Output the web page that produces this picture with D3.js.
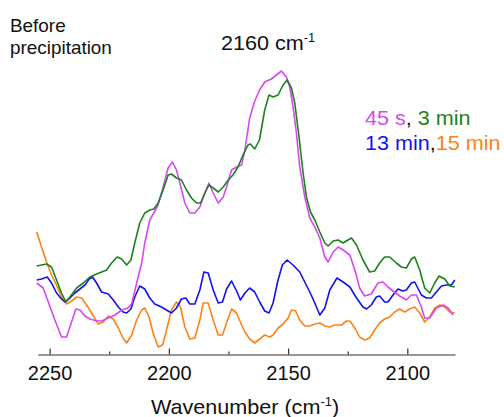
<!DOCTYPE html>
<html>
<head>
<meta charset="utf-8">
<script src="https://cdn.jsdelivr.net/npm/d3@7"></script>
<style>
  html, body { margin: 0; padding: 0; background: #fff; }
  svg { display: block; font-family: "Liberation Sans", Arial, Helvetica, sans-serif; }
</style>
</head>
<body>
<svg id="chart" width="504" height="417"></svg>
<script>
// ---- Data (wavenumber in cm-1, absorbance in arbitrary offset units) ----
const magentaWn = [2255.4,2252.7,2247.8,2245.0,2242.9,2240.8,2239.0,2237.3,2235.2,2233.1,2230.3,2228.2,2225.4,2222.6,2219.8,2217.1,2215.6,2213.5,2211.4,2210.1,2208.0,2206.3,2204.5,2202.4,2200.3,2198.5,2196.8,2195.4,2193.3,2191.2,2189.1,2187.0,2184.9,2183.2,2181.4,2179.3,2177.2,2175.8,2173.7,2171.6,2169.5,2168.1,2166.1,2164.0,2161.9,2159.8,2157.0,2154.9,2152.8,2150.7,2149.3,2147.9,2146.5,2145.1,2143.0,2140.9,2138.8,2136.7,2134.6,2133.2,2131.1,2129.0,2126.9,2124.1,2122.0,2120.0,2117.9,2115.1,2112.3,2110.2,2108.1,2106.0,2103.2,2100.4,2098.3,2096.2,2094.1,2092.7,2090.6,2087.8,2085.0,2082.9,2080.8];
const magentaVal = [0.71,0.66,0.34,0.17,0.17,0.32,0.45,0.44,0.38,0.35,0.33,0.33,0.36,0.39,0.44,0.46,0.50,0.71,0.91,1.11,1.34,1.41,1.49,1.67,1.86,1.92,1.84,1.71,1.51,1.41,1.41,1.47,1.61,1.71,1.61,1.51,1.57,1.67,1.84,1.87,1.89,2.04,2.36,2.53,2.64,2.72,2.75,2.79,2.83,2.77,2.67,2.47,2.21,1.87,1.57,1.36,1.27,1.16,0.97,0.92,1.02,1.07,1.04,0.99,0.84,0.66,0.58,0.60,0.71,0.72,0.67,0.63,0.58,0.54,0.59,0.59,0.47,0.36,0.36,0.46,0.49,0.46,0.39];

const greenWn = [2255.4,2251.3,2249.2,2247.1,2245.0,2243.2,2241.5,2238.7,2235.9,2233.1,2230.3,2226.1,2224.0,2221.7,2219.8,2217.7,2215.9,2214.3,2212.2,2210.1,2208.0,2206.3,2204.5,2202.4,2200.3,2198.9,2196.8,2194.7,2192.6,2190.5,2188.4,2186.7,2184.9,2183.2,2181.4,2179.3,2177.2,2175.1,2173.1,2171.0,2168.9,2166.8,2165.8,2164.0,2162.0,2159.8,2158.0,2156.3,2154.2,2152.1,2150.4,2148.6,2147.2,2145.4,2143.7,2142.3,2140.6,2138.8,2136.7,2134.6,2133.2,2131.1,2129.0,2126.9,2124.9,2123.4,2121.3,2118.6,2115.8,2113.7,2111.6,2109.5,2107.4,2104.6,2102.5,2100.4,2098.3,2096.9,2094.8,2092.7,2090.6,2088.5,2086.7,2084.3,2082.2,2080.1];
const greenVal = [0.88,0.90,0.87,0.74,0.61,0.52,0.57,0.66,0.71,0.77,0.80,0.84,0.91,0.97,0.95,0.89,0.94,1.11,1.31,1.41,1.44,1.45,1.51,1.64,1.79,1.80,1.76,1.74,1.64,1.56,1.51,1.51,1.61,1.69,1.66,1.62,1.67,1.74,1.79,1.87,1.99,2.09,2.10,2.05,2.14,2.44,2.59,2.57,2.59,2.69,2.74,2.66,2.51,2.17,1.81,1.57,1.42,1.34,1.22,1.11,1.08,1.13,1.14,1.11,1.14,1.16,1.09,0.94,0.82,0.83,0.91,0.97,0.97,0.91,0.87,0.86,0.95,0.97,0.84,0.66,0.61,0.71,0.78,0.75,0.68,0.67];

const blueWn = [2255.4,2253.4,2251.0,2249.2,2247.1,2245.0,2243.6,2241.5,2239.4,2237.3,2235.2,2233.4,2232.0,2230.3,2228.2,2225.4,2223.3,2221.2,2219.2,2217.7,2215.9,2214.3,2212.2,2210.1,2208.0,2205.9,2203.1,2201.0,2198.9,2196.8,2194.7,2192.9,2191.2,2189.1,2187.0,2185.3,2183.5,2181.4,2179.3,2177.5,2175.8,2173.7,2171.6,2170.0,2168.1,2166.1,2164.0,2161.9,2159.8,2158.0,2156.3,2154.2,2152.4,2150.4,2147.9,2145.1,2143.0,2140.9,2138.8,2136.7,2134.6,2132.5,2129.5,2126.9,2124.1,2121.3,2118.6,2117.1,2115.1,2113.0,2111.6,2109.5,2108.1,2106.0,2103.9,2102.0,2100.4,2098.3,2096.9,2094.1,2092.0,2089.9,2087.8,2085.7,2083.6,2081.5,2080.1];
const blueVal = [0.74,0.75,0.77,0.71,0.61,0.55,0.52,0.56,0.61,0.65,0.69,0.75,0.77,0.71,0.62,0.60,0.54,0.47,0.42,0.41,0.45,0.57,0.68,0.65,0.56,0.50,0.47,0.44,0.41,0.46,0.55,0.56,0.50,0.50,0.64,0.82,0.81,0.64,0.51,0.52,0.65,0.73,0.63,0.54,0.61,0.66,0.62,0.52,0.43,0.41,0.51,0.74,0.89,0.94,0.89,0.82,0.72,0.62,0.51,0.39,0.46,0.64,0.76,0.72,0.67,0.56,0.47,0.45,0.49,0.57,0.58,0.52,0.52,0.59,0.65,0.63,0.64,0.71,0.72,0.59,0.56,0.56,0.62,0.68,0.69,0.69,0.74];

const orangeWn = [2255.4,2253.4,2251.3,2249.2,2247.1,2245.0,2242.9,2240.8,2238.7,2236.6,2234.5,2232.4,2229.6,2227.5,2225.4,2223.3,2221.2,2219.2,2217.7,2215.6,2213.5,2211.4,2210.1,2208.3,2206.6,2204.5,2202.6,2201.0,2198.9,2196.8,2195.1,2193.3,2191.2,2189.1,2187.0,2185.6,2183.5,2181.4,2179.3,2177.5,2175.8,2173.7,2171.6,2169.5,2168.1,2166.1,2164.0,2161.9,2159.8,2157.7,2156.3,2154.2,2152.1,2150.0,2148.6,2146.8,2145.1,2143.0,2140.9,2138.8,2136.7,2134.6,2132.5,2130.4,2127.6,2125.5,2124.1,2122.0,2120.0,2117.9,2115.8,2113.7,2111.6,2109.5,2107.4,2105.3,2103.2,2101.1,2099.0,2096.9,2094.8,2092.7,2090.6,2088.5,2086.3,2084.3,2082.2,2080.1];
const orangeVal = [1.22,1.07,0.92,0.79,0.69,0.57,0.50,0.53,0.57,0.56,0.49,0.41,0.30,0.32,0.38,0.35,0.26,0.16,0.11,0.19,0.34,0.44,0.46,0.37,0.21,0.07,0.09,0.24,0.44,0.52,0.47,0.27,0.15,0.16,0.34,0.51,0.51,0.34,0.19,0.19,0.31,0.45,0.41,0.29,0.22,0.15,0.11,0.15,0.19,0.17,0.19,0.26,0.30,0.36,0.44,0.43,0.34,0.28,0.28,0.30,0.31,0.28,0.27,0.29,0.29,0.33,0.33,0.26,0.17,0.14,0.16,0.24,0.31,0.35,0.37,0.42,0.45,0.42,0.45,0.47,0.41,0.32,0.37,0.46,0.49,0.47,0.42,0.41];

const seriesNames = ["45 s", "3 min", "13 min", "15 min"];
const majorTicks = [2250, 2200, 2150, 2100];
const minorTicks = [2225, 2175, 2125];
const xDomain = [2255, 2080];
const yDomain = [0, 3];

// ---- Chart ----
const colors = { m: "#d848f2", g: "#1c821c", b: "#1212ee", o: "#fb8318" };
const svg = d3.select("#chart");
const axisY = 354.5;
const x = d3.scaleLinear().domain(xDomain).range([37.7, 455]);
const y = d3.scaleLinear().domain(yDomain).range([354, 54]);

const series = [
  { wn: orangeWn, val: orangeVal, color: colors.o },
  { wn: blueWn, val: blueVal, color: colors.b },
  { wn: magentaWn, val: magentaVal, color: colors.m },
  { wn: greenWn, val: greenVal, color: colors.g }
];
const line = d3.line().x(d => x(d[0])).y(d => y(d[1]));
svg.append("g").selectAll("path").data(series).join("path")
  .attr("d", s => line(d3.zip(s.wn, s.val)))
  .attr("fill", "none")
  .attr("stroke", s => s.color)
  .attr("stroke-width", 1.6)
  .attr("stroke-linejoin", "round");

// Axis
const xAxis = d3.axisBottom(x).tickValues(majorTicks).tickFormat(d3.format("d"))
  .tickSizeInner(-6).tickSizeOuter(0).tickPadding(11);
const gx = svg.append("g").attr("transform", `translate(0,${axisY})`).call(xAxis);
gx.select(".domain").attr("stroke", "#333").attr("stroke-width", 1.2);
gx.selectAll(".tick line").attr("stroke", "#333").attr("stroke-width", 1.2);
gx.selectAll(".tick text").attr("font-size", 20).attr("fill", "#111")
  .attr("font-family", "Liberation Sans, Arial, sans-serif");
const minorAxis = d3.axisBottom(x).tickValues(minorTicks).tickFormat("")
  .tickSizeInner(-3).tickSizeOuter(0);
const gm = svg.append("g").attr("transform", `translate(0,${axisY})`).call(minorAxis);
gm.select(".domain").remove();
gm.selectAll(".tick line").attr("stroke", "#333").attr("stroke-width", 1.2);

// Text helper with horizontal stretch
function label(xp, yp, size, anchor) {
  return svg.append("g").attr("transform", `translate(${xp},${yp}) scale(1.08,1)`)
    .append("text").attr("font-size", size).attr("fill", "#111")
    .attr("text-anchor", anchor || "start");
}
label(10, 32, 17.5).text("Before");
label(10, 54, 17.5).text("precipitation");

const t = label(221, 50, 20);
t.append("tspan").text("2160 cm");
t.append("tspan").attr("font-size", 12).attr("dy", -8).text("-1");

const ax = label(245, 414, 20, "middle");
ax.append("tspan").text("Wavenumber (cm");
ax.append("tspan").attr("font-size", 12).attr("dy", -8).text("-1");
ax.append("tspan").attr("dy", 8).text(")");

const l1 = label(365, 125, 20);
l1.append("tspan").attr("fill", colors.m).text(seriesNames[0]);
l1.append("tspan").attr("fill", "#111").text(", ");
l1.append("tspan").attr("fill", colors.g).text(seriesNames[1]);
const l2 = label(365, 150, 20);
l2.append("tspan").attr("fill", colors.b).text(seriesNames[2]);
l2.append("tspan").attr("fill", "#111").text(",");
l2.append("tspan").attr("fill", colors.o).text(seriesNames[3]);
</script>
</body>
</html>
